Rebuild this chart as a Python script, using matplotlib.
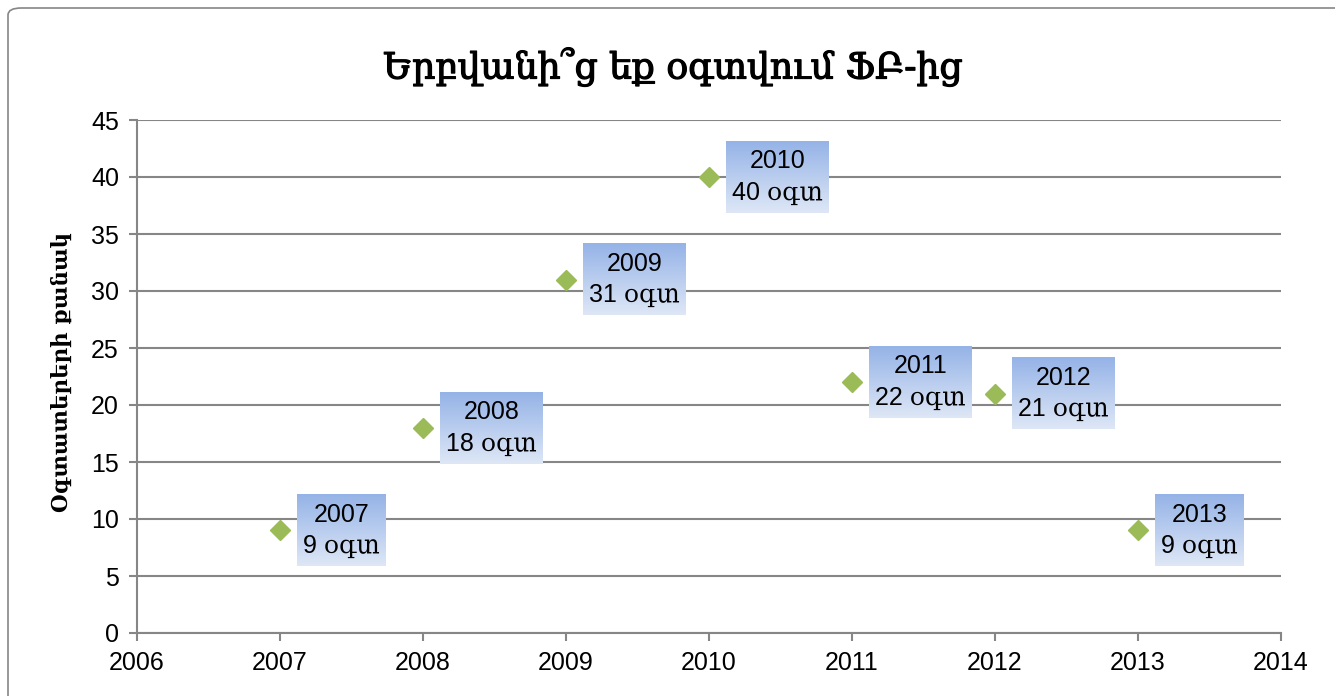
import numpy as np
import matplotlib
matplotlib.use("Agg")
import matplotlib.pyplot as plt
import matplotlib.patheffects as pe
from matplotlib.patches import FancyBboxPatch

# data
years = [2007, 2008, 2009, 2010, 2011, 2012, 2013]
users = [9, 18, 31, 40, 22, 21, 9]
unit = "օգտ"
title = "Երբվանի՞ց եք օգտվում ՖԲ-ից"
ylabel = "Օգտատերերի քանակ"

lab_font = ["Liberation Sans", "DejaVu Serif"]
grid_col = "#868686"

fig = plt.figure(figsize=(13.35, 6.96), dpi=100)
ax = fig.add_axes([137/1335, 1-633/696, (1281-137)/1335, (633-120)/696])

# outer chart border
fig.patches.append(FancyBboxPatch((8/1335, -0.05), 1.1, 1-8/696+0.05,
                                  boxstyle="round,pad=0,rounding_size=0.01",
                                  transform=fig.transFigure, fill=False,
                                  edgecolor=grid_col, lw=1.2))

ax.set_xlim(2006, 2014)
ax.set_ylim(0, 45)
ax.set_yticks(range(0, 46, 5))
ax.set_xticks(range(2006, 2015))
ax.grid(axis="y", color=grid_col, lw=1.5)
ax.set_axisbelow(True)
for s in ["top", "right"]:
    ax.spines[s].set_visible(False)
for s in ["left", "bottom"]:
    ax.spines[s].set_color(grid_col)
    ax.spines[s].set_linewidth(1.5)
ax.tick_params(direction="out", length=6, width=1.5, color=grid_col,
               labelsize=18, pad=7)
for t in ax.get_xticklabels() + ax.get_yticklabels():
    t.set_family("Liberation Sans")

ax.plot(years, users, linestyle="none", marker="D", ms=10.5,
        color="#9BBB59", zorder=5)

fig.text(673/1335, 1-67/696, title, ha="center", va="center",
         fontsize=26, family="DejaVu Serif",
         path_effects=[pe.withStroke(linewidth=0.9, foreground="black")])
fig.text(62/1335, 1-372/696, ylabel, ha="center", va="center",
         rotation=90, fontsize=15.5, fontweight="bold", family="DejaVu Serif")

# data labels with gradient boxes
texts = []
for x, y in zip(years, users):
    t = ax.annotate(f"{x}\n{y} {unit}", (x, y), xytext=(17/1.389 + 4.3, 0),
                    textcoords="offset points", ha="left", va="center",
                    multialignment="center", fontsize=18, family=lab_font,
                    linespacing=1.4, zorder=7)
    texts.append(t)

fig.canvas.draw()
r = fig.canvas.get_renderer()
grad = np.linspace(0, 1, 100)[:, None, None]
top = np.array([149, 179, 231]) / 255
bot = np.array([222, 231, 246]) / 255
img = top * (1 - grad) + bot * grad
inv = ax.transData.inverted()
for t in texts:
    bb = t.get_window_extent(r)
    x0, y0 = inv.transform((bb.x0 - 6, bb.y0 - 8))
    x1, y1 = inv.transform((bb.x1 + 6, bb.y1 + 8))
    ax.imshow(img, extent=(x0, x1, y0, y1), aspect="auto", zorder=6,
              interpolation="bilinear")

ax.set_xlim(2006, 2014)
ax.set_ylim(0, 45)

fig.savefig("out.png", dpi=100)
